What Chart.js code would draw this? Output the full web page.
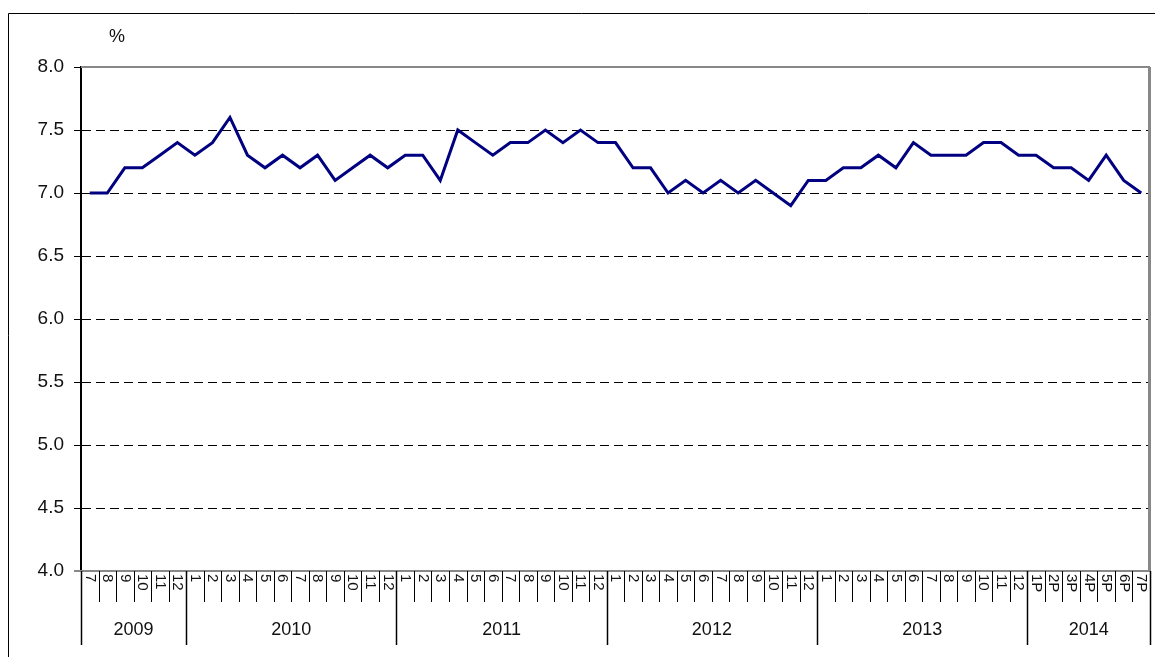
<!DOCTYPE html>
<html>
<head>
<meta charset="utf-8">
<script src="https://cdn.jsdelivr.net/npm/chart.js@4.4.1/dist/chart.umd.min.js"></script>
<style>
  body { margin: 0; background: #fff; }
  #wrap { width: 1155px; height: 657px; }
</style>
</head>
<body>
<div id="wrap"><canvas id="rateChart" width="1155" height="657"></canvas></div>
<script>
// Data
const monthLabels = [
    '7', '8', '9', '10', '11', '12',
    '1', '2', '3', '4', '5', '6', '7', '8', '9', '10', '11', '12',
    '1', '2', '3', '4', '5', '6', '7', '8', '9', '10', '11', '12',
    '1', '2', '3', '4', '5', '6', '7', '8', '9', '10', '11', '12',
    '1', '2', '3', '4', '5', '6', '7', '8', '9', '10', '11', '12',
    '1P', '2P', '3P', '4P', '5P', '6P', '7P'
];
const yearLabels = ['2009', '2010', '2011', '2012', '2013', '2014'];
const monthsPerYear = [6, 12, 12, 12, 12, 7];
const rateValues = [
    7.0, 7.0, 7.2, 7.2, 7.3, 7.4,
    7.3, 7.4, 7.6, 7.3, 7.2, 7.3, 7.2, 7.3, 7.1, 7.2, 7.3, 7.2,
    7.3, 7.3, 7.1, 7.5, 7.4, 7.3, 7.4, 7.4, 7.5, 7.4, 7.5, 7.4,
    7.4, 7.2, 7.2, 7.0, 7.1, 7.0, 7.1, 7.0, 7.1, 7.0, 6.9, 7.1,
    7.1, 7.2, 7.2, 7.3, 7.2, 7.4, 7.3, 7.3, 7.3, 7.4, 7.4, 7.3,
    7.3, 7.2, 7.2, 7.1, 7.3, 7.1, 7.0
];
const yMin = 4.0, yMax = 8.0, yStep = 0.5;
const unitLabel = '%';

const FONT = '"Liberation Sans", Arial, sans-serif';

// Frame, axis boxes and the two-level month/year axis
const decorPlugin = {
    id: 'decor',
    afterDraw(chart) {
        const c = chart.ctx;
        const a = chart.chartArea;
        const x = chart.scales.x;
        const n = monthLabels.length;
        const w = (a.right - a.left) / n;
        c.save();

        // outer frame
        c.strokeStyle = '#000';
        c.lineWidth = 1;
        c.beginPath();
        c.moveTo(8.5, 657);
        c.lineTo(8.5, 13.5);
        c.lineTo(1155, 13.5);
        c.stroke();

        // plot box top / right (grey)
        c.strokeStyle = '#888';
        c.lineWidth = 2;
        c.beginPath();
        c.moveTo(a.left, a.top);
        c.lineTo(a.right, a.top);
        c.stroke();
        c.lineWidth = 3;
        c.beginPath();
        c.moveTo(a.right - 0.5, a.top);
        c.lineTo(a.right - 0.5, a.bottom);
        c.stroke();

        // bottom axis line
        c.lineWidth = 2;
        c.beginPath();
        c.moveTo(a.left - 7, a.bottom);
        c.lineTo(a.right, a.bottom);
        c.stroke();

        // separators
        const yearEdges = [0];
        monthsPerYear.forEach(m => yearEdges.push(yearEdges[yearEdges.length - 1] + m));
        c.strokeStyle = '#000';
        for (let i = 0; i <= n; i++) {
            const px = Math.round(x.getPixelForValue(Math.min(i, n - 1)) + (i === n ? w / 2 : -w / 2)) + 0.5;
            const isYear = yearEdges.includes(i);
            c.lineWidth = isYear ? 1.5 : 1;
            c.beginPath();
            c.moveTo(px, a.bottom);
            c.lineTo(px, a.bottom + (isYear ? 74 : 31));
            c.stroke();
        }

        // month labels, rotated clockwise
        c.fillStyle = '#111';
        c.font = '15px ' + FONT;
        c.textAlign = 'left';
        c.textBaseline = 'middle';
        monthLabels.forEach((lab, i) => {
            const px = x.getPixelForValue(i);
            c.save();
            c.translate(px, a.bottom + 3);
            c.rotate(Math.PI / 2);
            c.fillText(lab, 0, 0);
            c.restore();
        });

        // year labels
        c.font = '18px ' + FONT;
        c.textAlign = 'center';
        c.textBaseline = 'middle';
        yearLabels.forEach((yr, k) => {
            const x0 = x.getPixelForValue(yearEdges[k]) - w / 2;
            const x1 = x.getPixelForValue(yearEdges[k + 1] - 1) + w / 2;
            c.fillText(yr, (x0 + x1) / 2, a.bottom + 59);
        });

        // unit
        c.font = '18px ' + FONT;
        c.fillText(unitLabel, 117, 37);
        c.restore();
    }
};

const ctx = document.getElementById('rateChart').getContext('2d');
const rateChart = new Chart(ctx, {
    type: 'line',
    data: {
        labels: monthLabels,
        datasets: [{
            data: rateValues,
            borderColor: '#000080',
            borderWidth: 3,
            pointRadius: 0,
            tension: 0,
            fill: false
        }]
    },
    options: {
        responsive: false,
        animation: false,
        layout: { padding: { left: 0, top: 67, right: 5, bottom: 0 } },
        plugins: { legend: { display: false }, tooltip: { enabled: false } },
        scales: {
            x: {
                type: 'category',
                offset: true,
                grid: { display: false },
                border: { display: false },
                ticks: { display: false },
                afterFit: s => { s.height = 86; }
            },
            y: {
                min: yMin,
                max: yMax,
                afterFit: s => { s.width = 81; },
                ticks: {
                    stepSize: yStep,
                    padding: 10,
                    color: '#111',
                    font: { family: FONT, size: 19 },
                    callback: v => v.toFixed(1)
                },
                grid: {
                    color: c => (c.tick && (c.tick.value === yMin || c.tick.value === yMax)) ? 'rgba(0,0,0,0)' : '#000',
                    lineWidth: 1,
                    tickLength: 7,
                    tickColor: '#000',
                    tickBorderDash: [],
                    drawTicks: true
                },
                border: { display: true, color: '#000', width: 2, dash: [9, 5] }
            }
        }
    },
    plugins: [decorPlugin]
});
</script>
</body>
</html>
